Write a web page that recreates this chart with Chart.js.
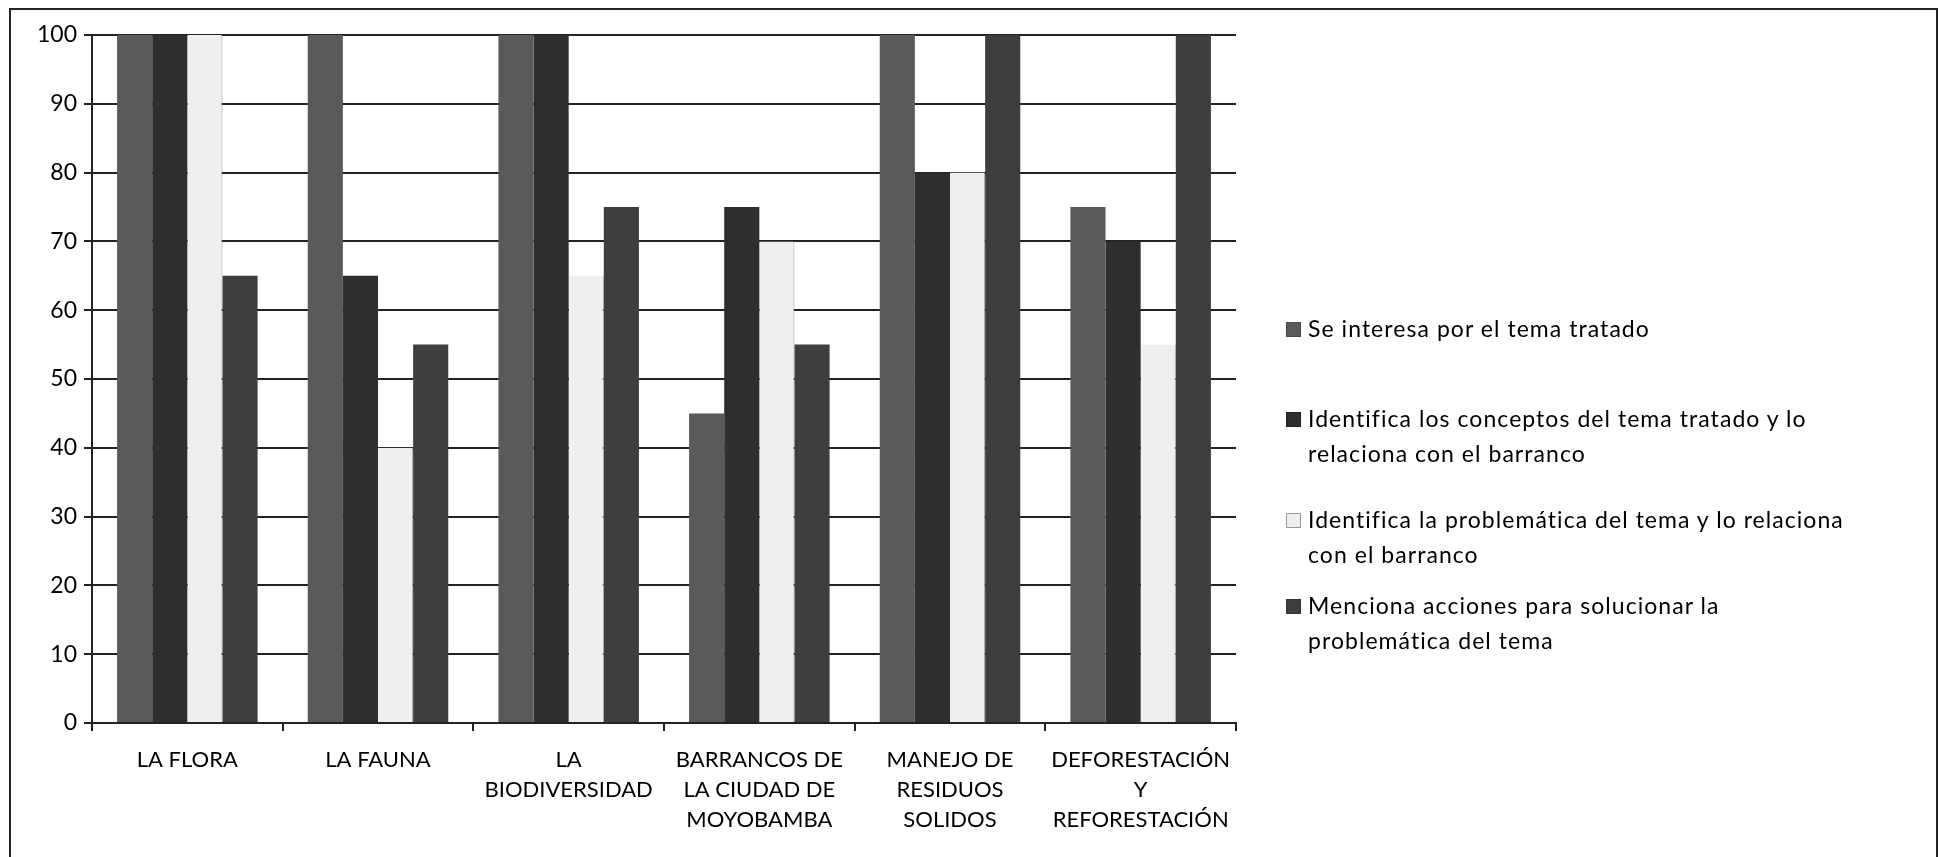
<!DOCTYPE html>
<html lang="es">
<head>
  <meta charset="UTF-8">
  <title>Barrancos de Moyobamba</title>
  <script src="https://cdn.jsdelivr.net/npm/chart.js"></script>
  <style>
    body, html {
      margin: 0;
      width: 1939px;
      height: 857px;
      overflow: hidden;
      background: #fff;
      font-family: Lato, "Open Sans", sans-serif;
    }
    .frame {
      position: absolute;
      left: 9px;
      top: 8px;
      width: 1925px;
      height: 900px;
      border: 2px solid #222;
    }
    .chart-box {
      position: absolute;
      left: 0;
      top: 0;
      width: 1939px;
      height: 857px;
    }
    .legend {
      position: absolute;
      left: 1286px;
      top: 311px;
      font-size: 23px;
      letter-spacing: 1.05px;
      line-height: 35px;
      color: #000;
      white-space: nowrap;
    }
    .legend-item {
      position: relative;
      padding-left: 22px;
    }
    .legend-item .box {
      position: absolute;
      left: 0;
      top: 11px;
      width: 13px;
      height: 13px;
    }
  </style>
</head>
<body>
  <div class="frame"></div>
  <div class="chart-box"><canvas id="chart" width="1939" height="857"></canvas></div>
  <div class="legend" id="legend"></div>

  <script>
    const categories = [
      ['LA FLORA'],
      ['LA FAUNA'],
      ['LA', 'BIODIVERSIDAD'],
      ['BARRANCOS DE', 'LA CIUDAD DE', 'MOYOBAMBA'],
      ['MANEJO DE', 'RESIDUOS', 'SOLIDOS'],
      ['DEFORESTACIÓN', 'Y', 'REFORESTACIÓN']
    ];

    // legend names, split where the original wraps them
    const seriesNames = [
      ['Se interesa por el tema tratado'],
      ['Identifica los conceptos del tema tratado y lo', 'relaciona con el barranco'],
      ['Identifica la problemática del tema y lo relaciona', 'con el barranco'],
      ['Menciona acciones para solucionar la', 'problemática del tema']
    ];

    const seInteresa = [100, 100, 100, 45, 100, 75];
    const identificaConceptos = [100, 65, 100, 75, 80, 70];
    const identificaProblematica = [100, 40, 65, 70, 80, 55];
    const mencionaAcciones = [65, 55, 75, 55, 100, 100];

    const yTicks = [0, 10, 20, 30, 40, 50, 60, 70, 80, 90, 100];

    const colors = ['#5a5a5a', '#2e2e2e', '#efefef', '#3e3e3e'];
    const borders = ['#4a4a4a', '#222', '#999', '#333'];
    const values = [seInteresa, identificaConceptos, identificaProblematica, mencionaAcciones];

    const datasets = values.map((v, i) => ({
      label: seriesNames[i].join(' '),
      data: v,
      backgroundColor: colors[i],
      borderColor: borders[i],
      borderWidth: i === 2 ? {right: 1} : 0,
      categoryPercentage: 0.737,
      barPercentage: 1.0
    }));

    const font = { family: 'Lato, "Open Sans", sans-serif', size: 22, lineHeight: 1.36 };

    new Chart(document.getElementById('chart'), {
      type: 'bar',
      data: { labels: categories, datasets: datasets },
      options: {
        responsive: false,
        animation: false,
        layout: { padding: { left: 10, right: 703, top: 35, bottom: 0 } },
        plugins: {
          legend: { display: false },
          tooltip: { enabled: false }
        },
        scales: {
          x: {
            grid: {
              offset: true,
              drawOnChartArea: false,
              drawTicks: true,
              tickLength: 8,
              color: '#222',
              lineWidth: 2
            },
            border: { color: '#222', width: 2 },
            ticks: { color: '#000', font: font, padding: 14, maxRotation: 0, autoSkip: false },
            afterFit: s => { s.height = 134; }
          },
          y: {
            min: 0,
            max: 100,
            afterBuildTicks: s => { s.ticks = yTicks.map(v => ({ value: v })); },
            grid: { color: '#222', lineWidth: 2, tickLength: 8 },
            border: { color: '#222', width: 2 },
            ticks: { color: '#000', font: Object.assign({}, font, { size: 23 }), padding: 7 },
            afterFit: s => { s.width = 82; }
          }
        }
      }
    });

    // legend drawn as html so the long labels keep their two lines
    const legend = document.getElementById('legend');
    const gaps = [0, 55, 31, 16];
    seriesNames.forEach((lines, i) => {
      const item = document.createElement('div');
      item.className = 'legend-item';
      item.style.marginTop = gaps[i] + 'px';
      const box = document.createElement('span');
      box.className = 'box';
      box.style.background = colors[i];
      box.style.border = '1px solid ' + borders[i];
      item.appendChild(box);
      lines.forEach((line, j) => {
        if (j > 0) item.appendChild(document.createElement('br'));
        item.appendChild(document.createTextNode(line));
      });
      legend.appendChild(item);
    });
  </script>
</body>
</html>
